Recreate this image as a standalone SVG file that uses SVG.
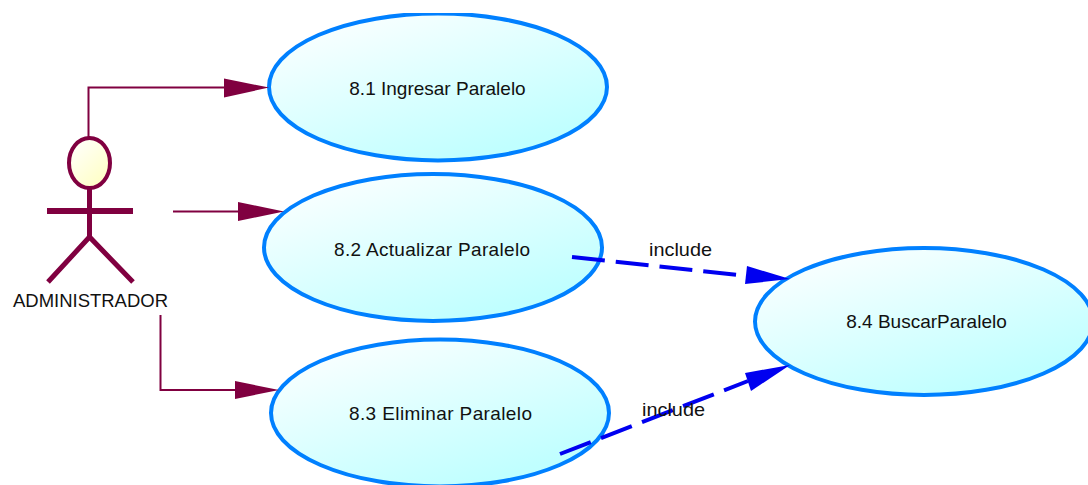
<svg xmlns="http://www.w3.org/2000/svg" width="1088" height="485" viewBox="0 0 1088 485">
<style>
.uc{fill:url(#ucFill);stroke:#0080ff;stroke-width:4}
text{font-family:"Liberation Sans",Arial,sans-serif;font-size:19px;fill:#111}
.c{text-anchor:middle}
.assoc{fill:none;stroke:#800040;stroke-width:2}
.incl{fill:none;stroke:#0000f0;stroke-width:4;stroke-dasharray:33 11}
.ah{fill:#800040}.bh{fill:#0000f0}
.actor{fill:none;stroke:#800040}
</style>
<defs>
<linearGradient id="ucFill" x1="0.1" y1="0" x2="0.72" y2="0.9"><stop offset="0" stop-color="#ffffff"/><stop offset="1" stop-color="#c0ffff"/></linearGradient>
<linearGradient id="headFill" x1="0.1" y1="0" x2="0.9" y2="1"><stop offset="0" stop-color="#ffffff"/><stop offset="1" stop-color="#ffffc0"/></linearGradient>
<clipPath id="topClip"><rect x="0" y="13" width="1088" height="472"/></clipPath>
</defs>
<rect width="1088" height="485" fill="#fff"/>
<g id="uc1"><ellipse class="uc" cx="438" cy="87" rx="169" ry="73.500" clip-path="url(#topClip)"/><text class="c" x="437.500" y="94.500">8.1 Ingresar Paralelo</text></g>
<g id="uc2"><ellipse class="uc" cx="433" cy="247.500" rx="169" ry="73.500"/><text class="c" x="432" y="256" textLength="196" lengthAdjust="spacing">8.2 Actualizar Paralelo</text></g>
<g id="uc3"><ellipse class="uc" cx="440" cy="413" rx="169" ry="73.500"/><text class="c" x="440.500" y="420" textLength="183" lengthAdjust="spacing">8.3 Eliminar Paralelo</text></g>
<g id="uc4"><ellipse class="uc" cx="924" cy="321.500" rx="169" ry="73.500"/><text class="c" x="926.500" y="328">8.4 BuscarParalelo</text></g>
<g id="actor">
<ellipse cx="89.500" cy="163" rx="20.500" ry="25" fill="url(#headFill)" stroke="#800040" stroke-width="4"/>
<path class="actor" stroke-width="5" d="M89.500 188V236M48 282L89.500 237L133 282"/>
<path class="actor" stroke-width="6" d="M47 211H133"/>
<text class="c" x="90.500" y="307" textLength="155" lengthAdjust="spacingAndGlyphs">ADMINISTRADOR</text>
</g>
<g id="connectors">
<path class="assoc" d="M88.500 137V87.500H226"/><path class="ah" d="M224 78.500L269 87.500L224 97.500Z"/>
<path class="assoc" d="M173 211.500H240"/><path class="ah" d="M238 202L284 211.500L238 221Z"/>
<path class="assoc" d="M160.500 315V390H237"/><path class="ah" d="M235 381L279 390L235 399Z"/>
<path class="incl" d="M572 257L748 276"/><path class="bh" d="M747 266L790 279L745 284Z"/>
<path class="incl" d="M560 454L748 381"/><path class="bh" d="M745 373L790 365L751 391Z"/>
<text class="c" x="680.500" y="256" textLength="63" lengthAdjust="spacingAndGlyphs">include</text>
<text class="c" x="673.500" y="416" textLength="63" lengthAdjust="spacingAndGlyphs">include</text>
</g>
</svg>
